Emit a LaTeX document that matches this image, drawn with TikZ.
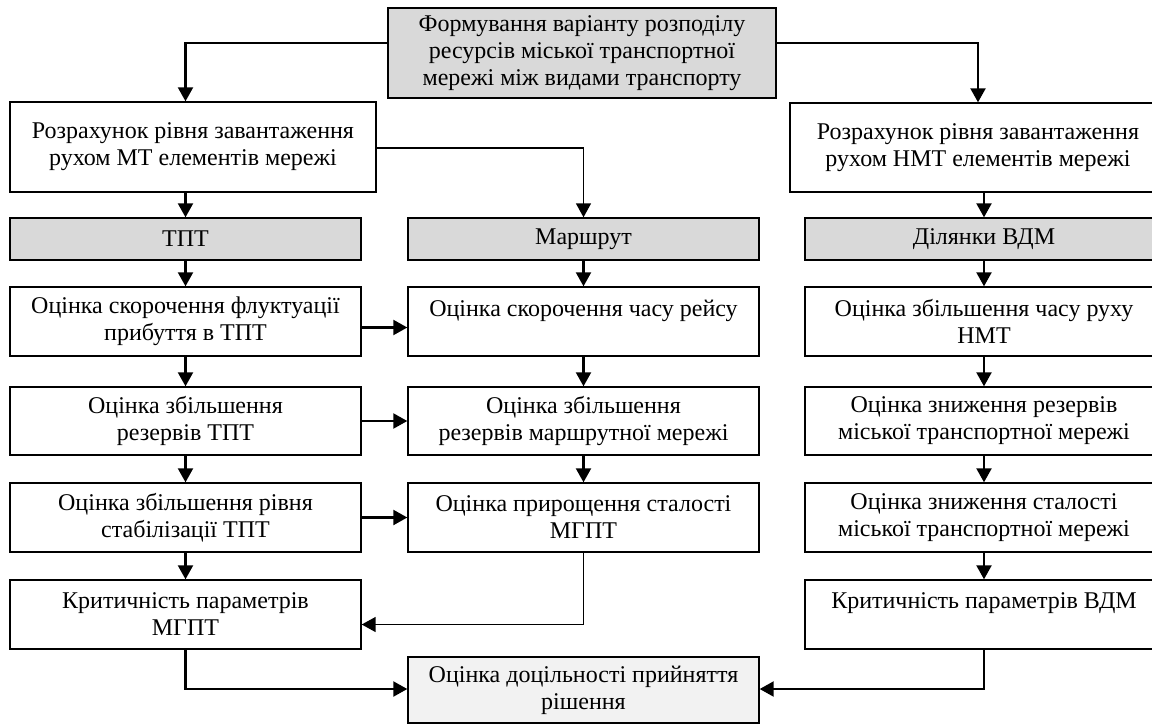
\documentclass[tikz,border=0pt]{standalone}
\usepackage{fontspec}
\setmainfont{Liberation Serif}
\usetikzlibrary{arrows.meta}
\definecolor{hdr}{HTML}{D9D9D9}
\definecolor{fin}{HTML}{F2F2F2}
\begin{document}
\begin{tikzpicture}[x=1pt,y=-1pt,
  box/.style={draw=black, line width=1.4pt, rectangle, align=center, inner sep=0pt,
    font=\fontsize{24}{27}\selectfont},
  hbox/.style={box, fill=hdr},
  arr/.style={line width=2.2pt, -{Triangle[length=14pt,width=15pt]}},
  thinarr/.style={line width=1.5pt, -{Triangle[length=14pt,width=15pt]}}]
\useasboundingbox (0,0) rectangle (1152,724);
\clip (0,0) rectangle (1152,724);
% top
\node[hbox, minimum width=388pt, minimum height=90pt] (top) at (582,53)
  {Формування варіанту розподілу\\ресурсів міської транспортної\\мережі між видами транспорту};
\node[box, minimum width=366pt, minimum height=90pt] (lcalc) at (193,147)
  {Розрахунок рівня завантаження\\рухом МТ елементів мережі};
\node[box, minimum width=376pt, minimum height=89pt] (rcalc) at (978,147.5)
  {Розрахунок рівня завантаження\\рухом НМТ елементів мережі};
% headers
\node[hbox, minimum width=351pt, minimum height=42pt] (tpt) at (185.5,239) {ТПТ};
\node[hbox, minimum width=351pt, minimum height=42pt] (route) at (583.5,239) {Маршрут};
\node[hbox, minimum width=358pt, minimum height=42pt] (vdm) at (984,239) {Ділянки ВДМ};
% row 1
\node[box, minimum width=351pt, minimum height=69pt] (l1) at (185.5,321.5)
  {Оцінка скорочення флуктуації\\прибуття в ТПТ};
\node[box, minimum width=351pt, minimum height=69pt] (m1) at (583.5,321.5)
  {Оцінка скорочення часу рейсу\\\mbox{}};
\node[box, minimum width=358pt, minimum height=69pt] (r1) at (984,321.5)
  {Оцінка збільшення часу руху\\НМТ};
% row 2
\node[box, minimum width=351pt, minimum height=68pt] (l2) at (185.5,421)
  {Оцінка збільшення\\резервів ТПТ};
\node[box, minimum width=351pt, minimum height=68pt] (m2) at (583.5,421)
  {Оцінка збільшення\\резервів маршрутної мережі};
\node[box, minimum width=358pt, minimum height=68pt] (r2) at (984,421)
  {Оцінка зниження резервів\\міської транспортної мережі};
% row 3
\node[box, minimum width=351pt, minimum height=69pt] (l3) at (185.5,517.5)
  {Оцінка збільшення рівня\\стабілізації ТПТ};
\node[box, minimum width=351pt, minimum height=69pt] (m3) at (583.5,517.5)
  {Оцінка прирощення сталості\\МГПТ};
\node[box, minimum width=358pt, minimum height=69pt] (r3) at (984,517.5)
  {Оцінка зниження сталості\\міської транспортної мережі};
% row 4
\node[box, minimum width=351pt, minimum height=69pt] (l4) at (185.5,614.5)
  {Критичність параметрів\\МГПТ};
\node[box, minimum width=358pt, minimum height=69pt] (r4) at (984,614.5)
  {Критичність параметрів ВДМ\\\mbox{}};
% bottom
\node[box, fill=fin, minimum width=351pt, minimum height=66pt] (fin) at (583.5,690)
  {Оцінка доцільності прийняття\\рішення};
% connectors
\draw[arr] ([yshift=10pt]top.west) -| (lcalc.north -| tpt.north);
\draw[arr] ([yshift=10pt]top.east) -| (rcalc.north);
\draw[thinarr] ([yshift=-1pt]lcalc.east) -| (route.north);
\draw[arr] (lcalc.south -| tpt.north) -- (tpt.north);
\draw[arr] (rcalc.south -| vdm.north) -- (vdm.north);
\foreach \a/\b in {tpt/l1,l1/l2,l2/l3,l3/l4,route/m1,m1/m2,m2/m3,vdm/r1,r1/r2,r2/r3,r3/r4}
  \draw[arr] (\a.south) -- (\b.north);
\draw[arr] ([yshift=-6pt]l1.east) -- ([yshift=-6pt]m1.west);
\draw[arr] (l2.east) -- (m2.west);
\draw[arr] (l3.east) -- (m3.west);
\draw[thinarr] (m3.south) |- ([yshift=-10pt]l4.east);
\draw[arr] (l4.south) |- ([yshift=1pt]fin.west);
\draw[arr] (r4.south) |- ([yshift=1pt]fin.east);
\end{tikzpicture}
\end{document}
